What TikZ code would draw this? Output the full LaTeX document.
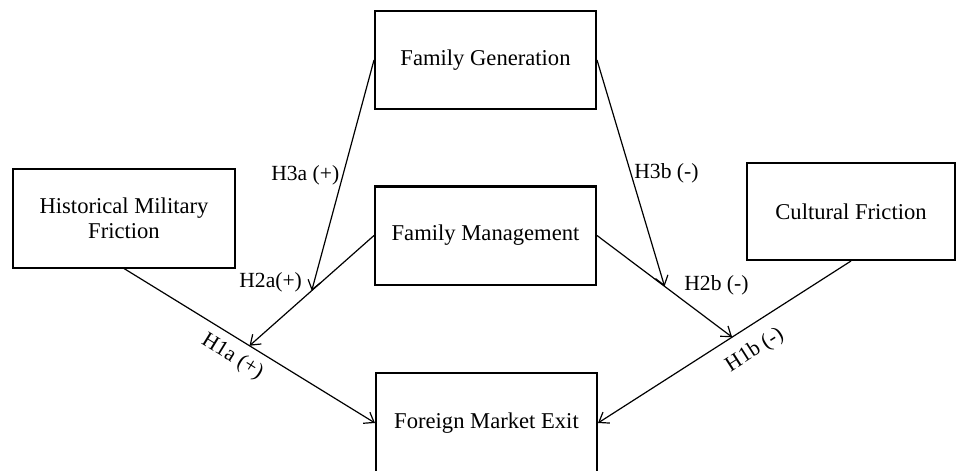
\documentclass[tikz,border=0pt]{standalone}
\usepackage{fontspec}
\setmainfont{Liberation Serif}
\usetikzlibrary{positioning,arrows.meta,calc}

\begin{document}
\begin{tikzpicture}[
        x=0.5pt, y=-0.5pt,
        >={Straight Barb[length=4.5pt,width=6.5pt]},
        var/.style={
            rectangle,
            draw,
            line width=1pt,
            minimum width=110.5pt,
            minimum height=49pt,
            align=center,
            inner sep=2pt,
            font=\fontsize{11.3}{12.5}\selectfont
        },
        link/.style={->, line width=0.6pt},
        hyp/.style={font=\fontsize{10.8}{12}\selectfont, inner sep=1.5pt},
    ]

    \useasboundingbox (0,0) rectangle (956,470);

    \node[var] (gen) at (485.5,60) {Family Generation};
    \node[var] (mgmt) at (485.5,235.5) {Family Management};
    \node[var, minimum width=111pt] (hist) at (124,218.5) {Historical Military\\Friction};
    \node[var, minimum width=104pt, minimum height=48.5pt] (cult) at (851,211.5) {Cultural Friction};
    \node[var, minimum height=50pt] (exit) at (486.5,423) {Foreign Market Exit};

    % direct effects
    \draw[link] (hist.south) -- node[hyp, pos=0.47, sloped, below=2.5pt]{H1a (+)} (exit.west);
    \draw[link] (cult.south) -- node[hyp, pos=0.43, sloped, below=5pt]{H1b (-)} (exit.east);

    \coordinate (h1a) at ($(hist.south)!0.5!(exit.west)$);
    \coordinate (h1b) at ($(cult.south)!0.47!(exit.east)$);

    % moderation by management
    \draw[link] (mgmt.west) -- node[hyp, pos=0.55, above left]{H2a(+)} (h1a);
    \draw[link] (mgmt.east) -- node[hyp, pos=0.62, above right]{H2b (-)} (h1b);

    \coordinate (h2a) at ($(mgmt.west)!0.5!(h1a)$);
    \coordinate (h2b) at ($(mgmt.east)!0.5!(h1b)$);

    % moderation by generation
    \draw[link] (gen.west) -- node[hyp, pos=0.5, left]{H3a (+)} (h2a);
    \draw[link] (gen.east) -- node[hyp, pos=0.5, right]{H3b (-)} (h2b);
\end{tikzpicture}
\end{document}
